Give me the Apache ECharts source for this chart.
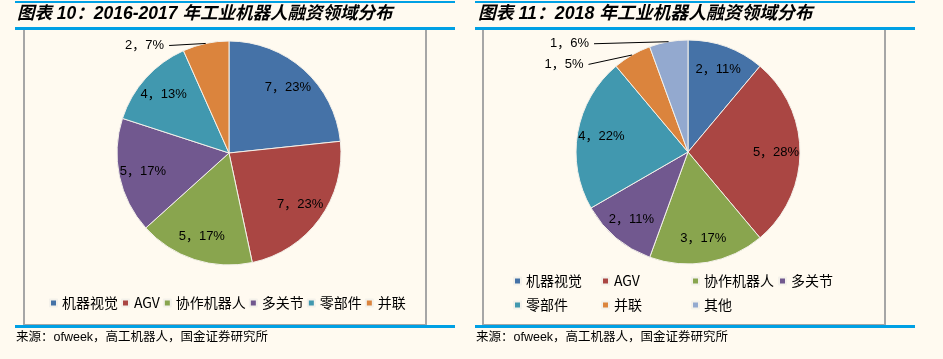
<!DOCTYPE html>
<html>
<head>
<meta charset="utf-8">
<script src="https://cdn.jsdelivr.net/npm/echarts@6/dist/echarts.min.js"></script>
<style>
html,body{margin:0;padding:0;background:#FFFAF0;}
#c{width:943px;height:359px;}
</style>
</head>
<body>
<div id="c"></div>
<script>
// ---- data ----
const leftTitle = '图表 10：2016-2017 年工业机器人融资领域分布';
const rightTitle = '图表 11：2018 年工业机器人融资领域分布';
const sourceText = '来源：ofweek，高工机器人，国金证券研究所';

const leftNames = ['机器视觉', 'AGV', '协作机器人', '多关节', '零部件', '并联'];
const leftValues = [7, 7, 5, 5, 4, 2];
const leftPct = [23, 23, 17, 17, 13, 7];

const rightNames = ['机器视觉', 'AGV', '协作机器人', '多关节', '零部件', '并联', '其他'];
const rightValues = [2, 5, 3, 2, 4, 1, 1];
const rightPct = [11, 28, 17, 11, 22, 5, 6];

const colorMap = {
  '机器视觉': '#4572A7',
  'AGV': '#AA4643',
  '协作机器人': '#89A54E',
  '多关节': '#71588F',
  '零部件': '#4198AF',
  '并联': '#DB843D',
  '其他': '#93A9CF'
};

// outside-labelled slices: name -> [length, length2, vertical nudge]
const leftOutside = { '并联': [3, 36, 5] };
const rightOutside = { '其他': [3, 74, 5], '并联': [3, 42, 12] };

const BLUE = '#00A0E4';
const GRAY = '#A6A6A6';
const FONT = '"Liberation Sans", Arial, "Noto Sans CJK SC", sans-serif';
const CJK = '"Noto Sans CJK SC", "Liberation Sans", sans-serif';

function mainData(names, values) {
  return names.map((n, i) => ({
    name: n, value: values[i],
    itemStyle: { color: colorMap[n] }
  }));
}
function labelData(names, values, pct, outside) {
  return names.map((n, i) => {
    const d = { name: n, value: values[i], pct: pct[i] };
    if (outside[n]) {
      d.label = { position: 'outside' };
      d.labelLine = { show: true, length: outside[n][0], length2: outside[n][1] };
    }
    return d;
  });
}

function pieMain(center, data) {
  return {
    type: 'pie', center: center, radius: [0, 112], startAngle: 90, clockwise: true,
    data: data, label: { show: false }, labelLine: { show: false },
    itemStyle: { borderColor: '#F4F1EA', borderWidth: 1 },
    emphasis: { disabled: true }, silent: true, animation: false, z: 2
  };
}
function pieLabels(center, data, outside) {
  return {
    type: 'pie', center: center, radius: [58, 112], startAngle: 90, clockwise: true,
    data: data, avoidLabelOverlap: false,
    itemStyle: { color: 'rgba(0,0,0,0)', borderWidth: 0 },
    label: {
      show: true, position: 'inside', color: '#000', fontSize: 13, fontFamily: FONT,
      formatter: p => p.value + '，' + p.data.pct + '%'
    },
    labelLine: { show: false, lineStyle: { color: '#000', width: 1 } },
    labelLayout: function (p) {
      const o = outside[data[p.dataIndex].name];
      if (!o || !p.labelLinePoints) return {};
      const pts = p.labelLinePoints;
      const end = [pts[2][0], pts[2][1] + o[2]];
      return { dy: o[2], labelLinePoints: [pts[0], end, end] };
    },
    emphasis: { disabled: true }, silent: true, animation: false, z: 3
  };
}

const legendText = { fontSize: 14, color: '#000', fontFamily: CJK };
function legend(names, left, top, orient) {
  return {
    data: names, left: left, top: top, orient: orient || 'horizontal',
    padding: 0, itemWidth: 7, itemHeight: 7, itemGap: orient === 'vertical' ? 10 : 3,
    icon: 'rect', selectedMode: false, textStyle: legendText, inactiveColor: '#ccc'
  };
}

const chart = echarts.init(document.getElementById('c'), null, { renderer: 'canvas' });
chart.setOption({
  backgroundColor: '#FFFAF0',
  animation: false,
  title: [
    { text: leftTitle, left: 17, top: 5, padding: 0,
      textStyle: { fontSize: 17.5, fontWeight: 'bold', fontStyle: 'italic', color: '#000', fontFamily: FONT } },
    { text: rightTitle, left: 478, top: 5, padding: 0,
      textStyle: { fontSize: 17.8, fontWeight: 'bold', fontStyle: 'italic', color: '#000', fontFamily: FONT } },
    { text: sourceText, left: 16, top: 331, padding: 0,
      textStyle: { fontSize: 12.5, fontWeight: 'normal', color: '#000', fontFamily: FONT } },
    { text: sourceText, left: 476, top: 331, padding: 0,
      textStyle: { fontSize: 12.5, fontWeight: 'normal', color: '#000', fontFamily: FONT } }
  ],
  graphic: [
    // boxes
    { type: 'rect', shape: { x: 24, y: 29, width: 402, height: 296 }, style: { fill: 'none', stroke: GRAY, lineWidth: 2 }, z: 1 },
    { type: 'rect', shape: { x: 483, y: 29, width: 402, height: 296 }, style: { fill: 'none', stroke: GRAY, lineWidth: 2 }, z: 1 },
    // blue rules
    { type: 'rect', shape: { x: 15, y: 1, width: 440, height: 2 }, style: { fill: BLUE }, z: 5 },
    { type: 'rect', shape: { x: 15, y: 27, width: 440, height: 3 }, style: { fill: BLUE }, z: 5 },
    { type: 'rect', shape: { x: 15, y: 325, width: 440, height: 3 }, style: { fill: BLUE }, z: 5 },
    { type: 'rect', shape: { x: 475, y: 1, width: 440, height: 2 }, style: { fill: BLUE }, z: 5 },
    { type: 'rect', shape: { x: 475, y: 27, width: 440, height: 3 }, style: { fill: BLUE }, z: 5 },
    { type: 'rect', shape: { x: 475, y: 325, width: 440, height: 3 }, style: { fill: BLUE }, z: 5 }
  ],
  legend: [
    legend(leftNames, 49, 296),
    legend([rightNames[0], rightNames[4]], 513, 274, 'vertical'),
    legend([rightNames[1], rightNames[5]], 601, 274, 'vertical'),
    legend([rightNames[2], rightNames[6]], 691, 274, 'vertical'),
    legend([rightNames[3]], 778, 274, 'vertical')
  ],
  series: [
    pieMain([229, 153], mainData(leftNames, leftValues)),
    pieLabels([229, 153], labelData(leftNames, leftValues, leftPct, leftOutside), leftOutside),
    pieMain([688, 152], mainData(rightNames, rightValues)),
    pieLabels([688, 152], labelData(rightNames, rightValues, rightPct, rightOutside), rightOutside)
  ]
});
</script>
</body>
</html>
